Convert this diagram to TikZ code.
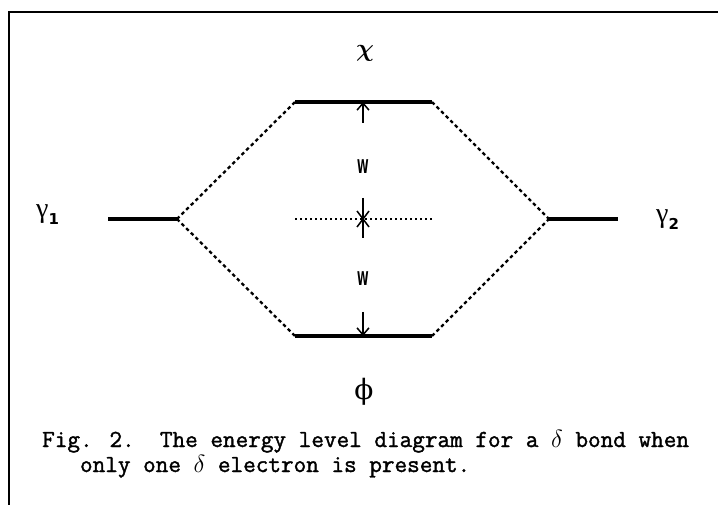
\documentclass[tikz,border=0pt]{standalone}
\usepackage{fontspec}
\setsansfont{DejaVu Sans}
\newfontfamily\serifgreek{Liberation Serif}
\newfontfamily\phifont{DejaVu Serif}
\newfontfamily\capfont{Latin Modern Mono}[FakeBold=1.5]
\usetikzlibrary{arrows.meta}
\tikzset{
  frameline/.style={line width=2pt},
  level/.style={line width=4pt},
  corr/.style={line width=2.3pt, dash pattern=on 3.5pt off 3pt},
  midline/.style={line width=2pt, dash pattern=on 2pt off 3pt},
  wline/.style={line width=1.5pt},
  glabel/.style={font=\fontsize{28}{28}\selectfont, inner sep=0pt},
  wlabel/.style={font=\fontsize{19}{19}\selectfont\sffamily\bfseries, inner sep=0pt},
  captext/.style={font=\fontsize{24.5}{25}\selectfont\capfont, inner sep=0pt, align=left, anchor=base west}
}
\newcommand{\subnum}[1]{\raisebox{-7pt}{\fontsize{15}{15}\selectfont\sffamily\bfseries #1}}
\begin{document}
\begin{tikzpicture}[x=1pt,y=-1pt]
\useasboundingbox (0,0) rectangle (718,505);
% frame
\coordinate (ftr) at (718,12);
\coordinate (ftl) at (9,12);
\coordinate (fbl) at (9,505);
\draw[frameline] (ftr) -- (ftl) -- (fbl);
% levels
\coordinate (g1a) at (108,219); \coordinate (g1b) at (177,219);
\coordinate (g2a) at (549,219); \coordinate (g2b) at (618,219);
\coordinate (xa) at (295,102); \coordinate (xb) at (432,102);
\coordinate (pa) at (295,336); \coordinate (pb) at (432,336);
\coordinate (ma) at (295,219); \coordinate (mb) at (432,219);
\draw[level] (g1a) -- (g1b);
\draw[level] (g2a) -- (g2b);
\draw[level] (xa) -- (xb);
\draw[level] (pa) -- (pb);
\draw[midline] (ma) -- (mb);
% correlation lines
\draw[corr] (g1b) -- (xa);
\draw[corr] (g1b) -- (pa);
\draw[corr] (xb) -- (g2a);
\draw[corr] (pb) -- (g2a);
% W arrows
\coordinate (xtop) at (363,102);
\coordinate (xtail) at (363,123);
\coordinate (pbot) at (363,336);
\coordinate (ptail) at (363,312);
\coordinate (mc) at (363,219);
\coordinate (mt) at (363,198);
\coordinate (mbm) at (363,238);
\draw[wline, -{Straight Barb[length=7pt,width=12pt]}] (xtail) -- (xtop);
\draw[wline, -{Straight Barb[length=7pt,width=12pt]}] (ptail) -- (pbot);
\draw[wline] (mt) -- (mbm);
\draw[wline] ([shift={(-6,-8)}]mc) -- ([shift={(6,8)}]mc);
\draw[wline] ([shift={(6,-8)}]mc) -- ([shift={(-6,8)}]mc);
\node[wlabel] (w1) at (363,167) {\scalebox{0.55}[1]{W}};
\node[wlabel] (w2) at (363,279) {\scalebox{0.55}[1]{W}};
% labels
\node[glabel, font=\fontsize{32}{32}\selectfont\boldmath] (chi) at (365,53) {$\chi$};
\node[glabel] (phi) at (364,392) {\phifont ϕ};
\node[glabel, anchor=base west] (g1) at (36,218) {\serifgreek γ\subnum{1}};
\node[glabel, anchor=base west] (g2) at (656,223) {\serifgreek γ\subnum{2}};
% caption
\node[captext] (cap1) at (42,472) {Fig. 2.\ \ The energy level diagram for a $\delta$ bond when\\\ \ \ only one $\delta$ electron is present.};
\end{tikzpicture}
\end{document}
